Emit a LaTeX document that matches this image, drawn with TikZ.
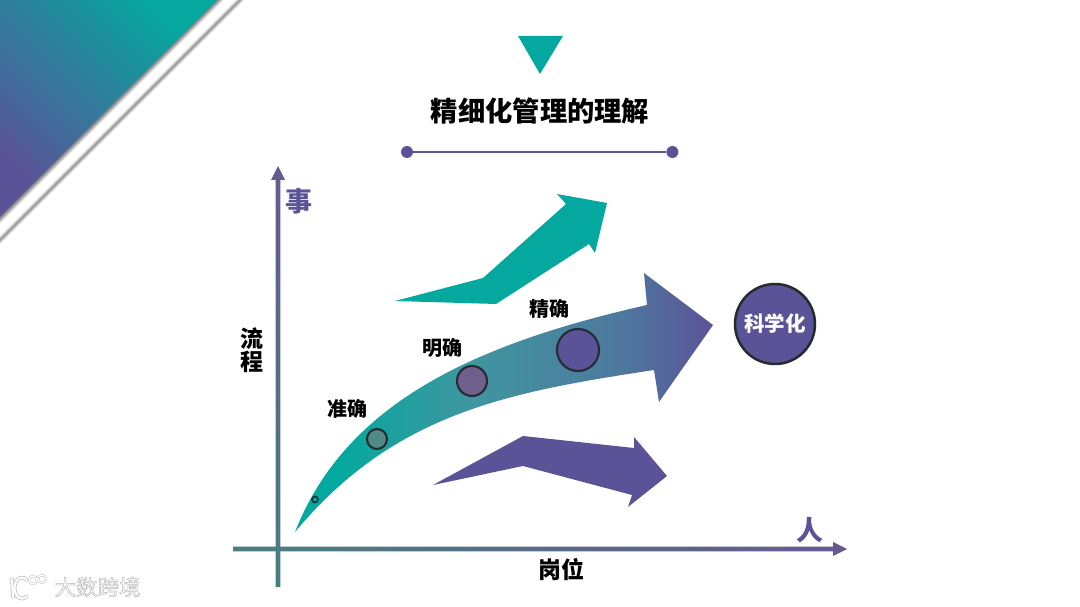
\documentclass[tikz,border=0pt]{standalone}
\usepackage{fontspec}
\setmainfont{Noto Sans CJK SC}
\usepackage{tikz}
\usetikzlibrary{positioning,calc}
\definecolor{tealc}{HTML}{04A89E}
\definecolor{purplec}{HTML}{5B5398}
\definecolor{axislow}{HTML}{4A7F80}
\definecolor{axishigh}{HTML}{665A8E}
\definecolor{ringc}{HTML}{262B30}
\definecolor{fadea}{HTML}{3F96A0}
\definecolor{fadeb}{HTML}{4E789E}
\definecolor{pointb}{HTML}{4F8A85}
\definecolor{pointc}{HTML}{6F5F8C}
\pgfdeclarehorizontalshading{bigfade}{100bp}{color(0bp)=(tealc); color(30bp)=(tealc); color(46bp)=(fadea); color(64bp)=(fadeb); color(75bp)=(purplec); color(100bp)=(purplec)}
\newcommand{\size}[1]{\fontsize{#1}{#1}\selectfont}
\newcommand{\wmtext}[1]{\special{pdf:code 2 Tr 0.72 0.72 0.72 RG 0.5 w}#1\special{pdf:code 0 Tr}}

\begin{document}
\begin{tikzpicture}[
          x=1pt,y=-1pt,
          lab/.style={inner sep=0pt,font=\size{20}\bfseries},
          bigl/.style={inner sep=0pt,font=\size{23}\bfseries,align=center},
          axl/.style={inner sep=0pt,font=\size{27}\bfseries,text=purplec},
          ring/.style={circle,draw=ringc,line width=2.1pt,inner sep=0pt},
          dot/.style={circle,fill=purplec,inner sep=0pt,minimum size=12pt}
            ]
    \useasboundingbox (0,0) rectangle (1080,607);

    \foreach \r/\c in {244/black!8,243/black!20,241.5/black!38,240/black!34,238.5/black!20,237/black!8,235.5/white,
                       224/black!8,222.5/black!20,221/black!34,219/black!48}
        \fill[\c] (0,0) -- (\r,0) -- (0,\r) -- cycle;
    \shade[bottom color=purplec,top color=tealc,shading angle=-45]
        (0,0) -- (217,0) -- (0,217) -- cycle;

    \fill[tealc] (518,36) -- (563,36) -- (540,74) -- cycle;
    \node[inner sep=0pt,font=\size{27.3}\bfseries] (title) at (540,111) {精细化管理的理解};
    \node[dot] (rulel) at (407,152) {};
    \node[dot,right=253pt of rulel] (ruler) {};
    \draw[purplec,line width=2.6pt] (rulel) -- (ruler);

    \coordinate (xa) at (233,549);
    \coordinate (xb) at (833,549);
    \coordinate (xc) at (847,549);
    \coordinate (ya) at (278,587);
    \coordinate (yb) at (278,180);
    \coordinate (yc) at (278,166);
    \shade[left color=axislow,right color=axishigh]
        ($(xa)+(0,-2.3)$) -- ($(xb)+(0,-2.3)$) -- ($(xb)+(0,-7)$) -- (xc)
        -- ($(xb)+(0,7)$) -- ($(xb)+(0,2.3)$) -- ($(xa)+(0,2.3)$) -- cycle;
    \shade[bottom color=axislow,top color=axishigh]
        ($(ya)+(-2.3,0)$) -- ($(yb)+(-2.3,0)$) -- ($(yb)+(-7,0)$) -- (yc)
        -- ($(yb)+(7,0)$) -- ($(yb)+(2.3,0)$) -- ($(ya)+(2.3,0)$) -- cycle;

    \fill[tealc] (395,301) -- (483,278) -- (566,204) -- (557,194) -- (607,203)
        -- (595,253) -- (589,244) -- (496,304) -- cycle;
    \fill[purplec] (433,485) -- (523,436) -- (634,448) -- (634,437) -- (667,476)
        -- (628,507) -- (632,495) -- (523,466) -- cycle;
    \shade[shading=bigfade] (295,532) .. controls (345,405) and (470,345) .. (647,305)
        -- (644,273) -- (713,325) -- (659,402) -- (654,370)
        .. controls (510,392) and (395,412) .. (295,532) -- cycle;

    \node[ring,fill=tealc,line width=1.6pt,minimum size=6pt] (pa) at (315,499.5) {};
    \node[ring,fill=pointb,minimum size=20pt] (pb) at (377,439) {};
    \node[ring,fill=pointc,minimum size=30pt] (pc) at (472,381) {};
    \node[ring,fill=purplec,minimum size=42pt] (pd) at (578,350) {};
    \node[lab,above left=13pt and 1pt of pb] (zhun) {准确};
    \node[lab,above left=12pt and -2pt of pc] (ming) {明确};
    \node[lab,above left=16pt and -7pt of pd] (jing) {精确};

    \node[ring,fill=purplec,line width=2.5pt,minimum size=80pt,text=white,font=\size{20.5}\bfseries] (sci) at (775,324) {科学化};

    \node[axl] (shi) at (299,201) {事};
    \node[axl] (ren) at (810,530) {人};
    \node[bigl] (liu) at (252,350) {流\\程};
    \node[bigl] (gang) at (561,570) {岗位};

    \foreach \c/\w in {black!28/3.6,white/2.2}{
        \draw[\c,line width=\w pt,line cap=round] (12,579) -- (13,597);
        \draw[\c,line width=\w pt,line cap=round] (26.8,580) arc (-50:-310:7.5 and 10.5);
        \draw[\c,line width=\w*.6 pt] (33,580) circle (4) (42,579) circle (4);
    }
    \node[inner sep=0pt,text=white,font=\size{21.5}] (mark) at (97.5,587) {\wmtext{大数跨境}};
\end{tikzpicture}
\end{document}
